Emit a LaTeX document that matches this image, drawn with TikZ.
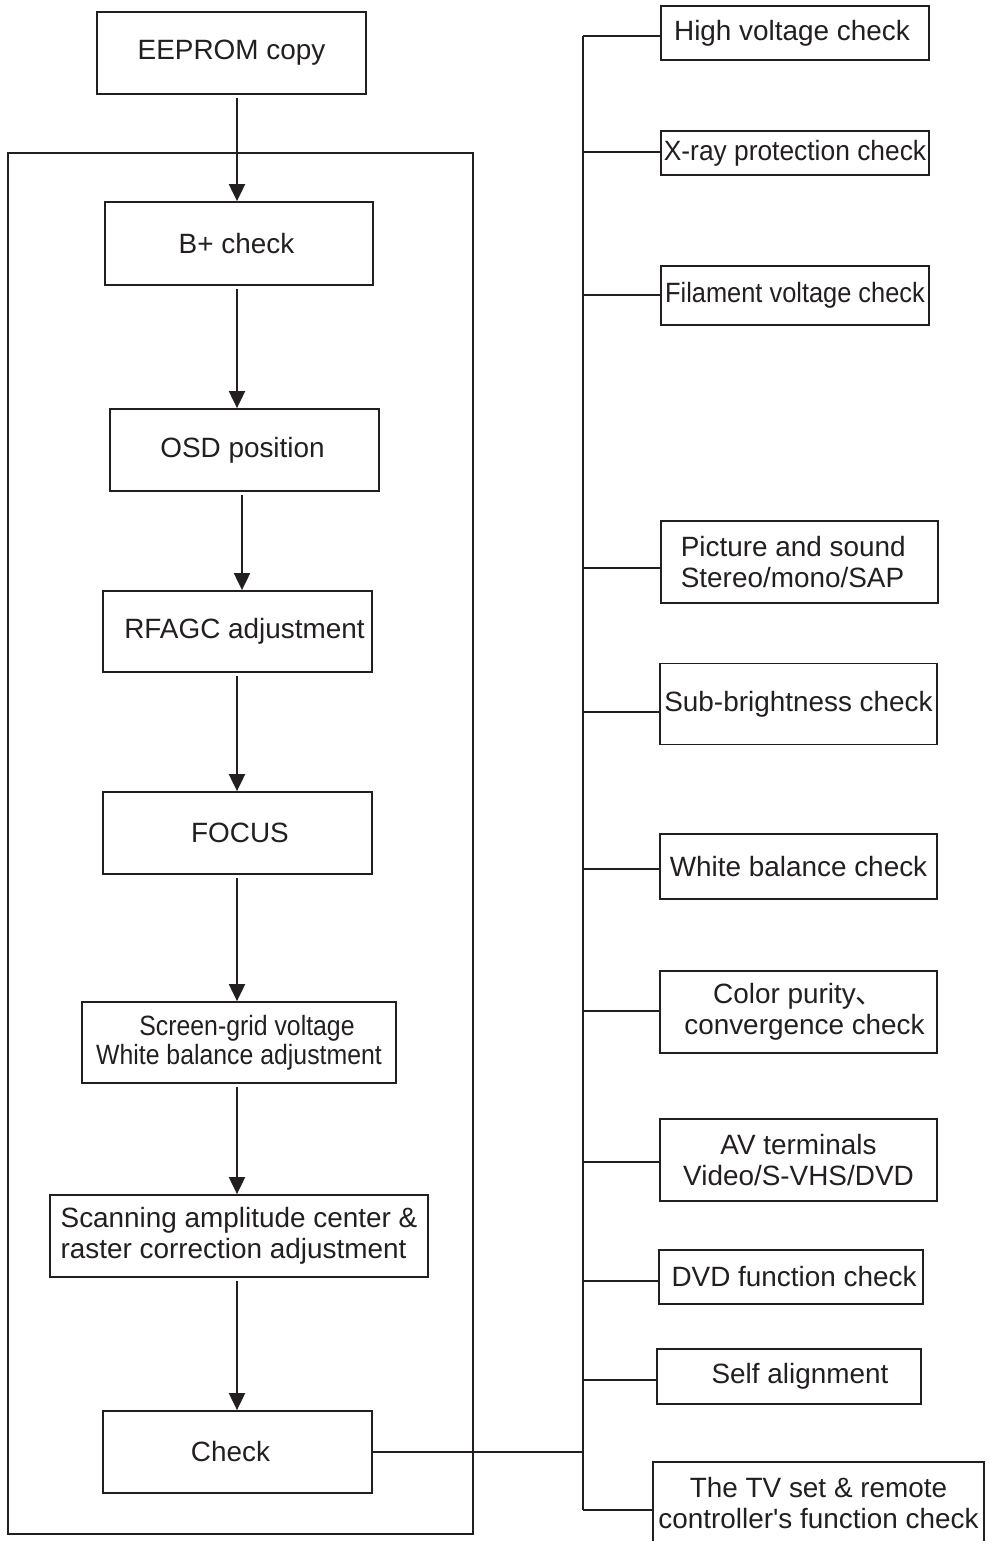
\documentclass[tikz,border=0pt]{standalone}
\usepackage{fontspec}
\setmainfont{Liberation Sans}
\newfontfamily\cjk{Noto Sans CJK SC}
\newfontfamily\condA[FakeStretch=0.89]{Liberation Sans}
\newfontfamily\condB[FakeStretch=0.91]{Liberation Sans}
\newfontfamily\condC[FakeStretch=0.945]{Liberation Sans}
\usetikzlibrary{arrows.meta}
\definecolor{ink}{HTML}{231F20}
\begin{document}
\begin{tikzpicture}[x=0.5pt,y=-0.5pt,
  bx/.style={draw=ink, line width=0.9pt, inner sep=0pt, align=center, text=ink,
    font=\fontsize{13.95}{15.5}\selectfont},
  arr/.style={draw=ink, line width=1pt, -{Triangle[length=8.5pt,width=8pt]}, shorten <=1.5pt},
  conn/.style={draw=ink, line width=0.8pt}]
\useasboundingbox (0,0) rectangle (989,1541);
\clip (0,0) rectangle (989,1541);
\fill[white] (0,0) rectangle (989,1541);

% outer frame
\node[draw=ink, line width=0.9pt, inner sep=0pt, minimum width=232.5pt, minimum height=690.5pt] (frame) at (240.5,843.5) {};

% left column
\node[bx, minimum width=134.5pt, minimum height=41pt] (eeprom) at (231.5,53) {EEPROM copy};
\node[bx, minimum width=134pt, minimum height=41.5pt] (bplus) at (239,243.5) {B+ check\hspace*{2.5pt}};
\node[bx, minimum width=134.5pt, minimum height=41pt] (osd) at (244.5,450) {OSD position\hspace*{2pt}};
\node[bx, minimum width=134.5pt, minimum height=40.5pt] (rfagc) at (237.5,631.5) {\hspace*{7pt}RFAGC adjustment};
\node[bx, minimum width=134.5pt, minimum height=41pt] (focus) at (237.5,833) {\hspace*{2.5pt}FOCUS};
\node[bx, minimum width=157pt, minimum height=40.5pt, font=\fontsize{13.95}{14.5}\condA] (screen) at (239,1042.5) {\hspace*{8pt}Screen-grid voltage\\White balance adjustment};
\node[bx, minimum width=189pt, minimum height=41pt, align=left] (scan) at (239,1236) {Scanning amplitude center \&\\raster correction adjustment};
\node[bx, minimum width=134.5pt, minimum height=41pt] (check) at (237.5,1452) {Check\hspace*{7pt}};

\coordinate (ax) at (237,0);
\coordinate (ax2) at (242,0);
\draw[arr] (eeprom.south -| ax) -- (bplus.north -| ax);
\draw[arr] (bplus.south -| ax) -- (osd.north -| ax);
\draw[arr] (osd.south -| ax2) -- (rfagc.north -| ax2);
\draw[arr] (rfagc.south -| ax) -- (focus.north -| ax);
\draw[arr] (focus.south -| ax) -- (screen.north -| ax);
\draw[arr] (screen.south -| ax) -- (scan.north -| ax);
\draw[arr] (scan.south -| ax) -- (check.north -| ax);

% right column
\node[bx, minimum width=134pt, minimum height=27pt] (hv) at (795,33) {High voltage check\hspace*{3pt}};
\node[bx, minimum width=134pt, minimum height=22pt, font=\fontsize{13.95}{15.5}\condC] (xray) at (795,153) {X-ray protection check};
\node[bx, minimum width=134pt, minimum height=29.5pt, font=\fontsize{13.95}{15.5}\condB] (fil) at (795,295.5) {Filament voltage check};
\node[bx, minimum width=138.5pt, minimum height=41pt, align=left] (pic) at (799.5,562) {Picture and sound\\Stereo/mono/SAP\hspace*{7pt}};
\node[bx, minimum width=138.5pt, minimum height=40.5pt] (sub) at (798.5,704) {Sub-brightness check};
\node[bx, minimum width=138.5pt, minimum height=32.5pt] (wb) at (798.5,866.5) {White balance check};
\node[bx, minimum width=138.5pt, minimum height=41pt] (col) at (798.5,1012) {\hspace*{0pt}Color purity{\cjk 、}\\\hspace*{6pt}convergence check};
\node[bx, minimum width=138.5pt, minimum height=41pt] (av) at (798.5,1160) {AV terminals\\Video/S-VHS/DVD};
\node[bx, minimum width=132pt, minimum height=27pt] (dvd) at (791,1277) {\hspace*{3pt}DVD function check};
\node[bx, minimum width=132pt, minimum height=27.5pt] (self) at (789,1376.5) {\hspace*{11pt}Self alignment};
\node[bx, minimum width=165.5pt, minimum height=41.5pt] (tv) at (818.5,1503.5) {The TV set \& remote\\controller\textquotesingle s function check};

% spine and branches
\coordinate (bhv) at (583,36);
\coordinate (bxray) at (583,152);
\coordinate (bfil) at (583,295);
\coordinate (bpic) at (583,568);
\coordinate (bsub) at (583,712);
\coordinate (bwb) at (583,869);
\coordinate (bcol) at (583,1011);
\coordinate (bav) at (583,1162);
\coordinate (bdvd) at (583,1281);
\coordinate (bself) at (583,1380);
\coordinate (btv) at (583,1510);

\draw[conn] (bhv) -- (btv);
\draw[conn] (bhv) -- (bhv -| hv.west);
\draw[conn] (bxray) -- (bxray -| xray.west);
\draw[conn] (bfil) -- (bfil -| fil.west);
\draw[conn] (bpic) -- (bpic -| pic.west);
\draw[conn] (bsub) -- (bsub -| sub.west);
\draw[conn] (bwb) -- (bwb -| wb.west);
\draw[conn] (bcol) -- (bcol -| col.west);
\draw[conn] (bav) -- (bav -| av.west);
\draw[conn] (bdvd) -- (bdvd -| dvd.west);
\draw[conn] (bself) -- (bself -| self.west);
\draw[conn] (btv) -- (btv -| tv.west);
\draw[conn] (check.east) -- (check.east -| bhv);
\end{tikzpicture}
\end{document}
